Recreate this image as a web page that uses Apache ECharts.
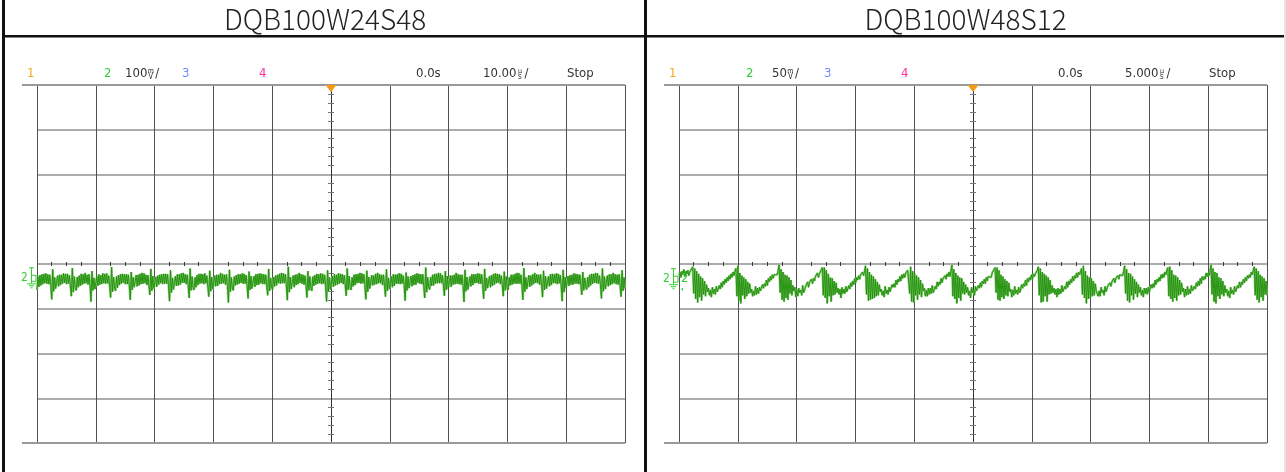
<!DOCTYPE html>
<html>
<head>
<meta charset="utf-8">
<script src="https://cdn.jsdelivr.net/npm/echarts@6/dist/echarts.min.js"></script>
<style>
  html, body { margin: 0; padding: 0; background: #fff; }
  #chart { width: 1286px; height: 472px; }
</style>
</head>
<body>
<div id="chart"></div>
<script>
// Panel titles
const titles = ['DQB100W24S48', 'DQB100W48S12'];
// Channel 2 vertical scale (mV/div) and its header text
const voltsPerDiv = [100, 50];
const voltLabels = ['100', '50'];
// Horizontal scale (µs/div) and its header text
const timePerDiv = [10, 5];
const timeLabels = ['10.00', '5.000'];
const delayLabel = '0.0s';
const runLabel = 'Stop';
// Channel 2 ground reference, in divisions from screen centre
const groundDiv = [-0.32, -0.34];
// Channel numbers shown in the header
const channelNames = ['1', '2', '3', '4'];

// Channel 2 ripple, mV relative to ground, evenly spaced over the 10-division record
const traceA = [
  -26, 4, -19, 7, -16, 9, -13, 10, -11, 11, -12, 9, -13, 8, -16, -47, 20, -29, 2, -23,
  -24, 6, -18, 8, -15, 8, -12, 11, -10, 10, -13, 10, -12, 7, -17, -40, 23, -31, 4, -21,
  -27, 3, -20, 6, -17, 10, -14, 9, -12, 12, -11, 8, -14, 9, -15, -52, 16, -27, 1, -24,
  -23, 5, -17, 9, -14, 7, -13, 11, -11, 10, -12, 11, -11, 6, -18, -43, 25, -30, 3, -22,
  -28, 4, -21, 7, -15, 9, -12, 10, -10, 9, -13, 9, -13, 8, -14, -48, 14, -26, 2, -20,
  -22, 7, -18, 8, -16, 10, -13, 12, -12, 11, -11, 8, -15, 7, -16, -37, 21, -28, 5, -23,
  -25, 3, -19, 6, -14, 8, -11, 9, -13, 10, -12, 10, -12, 9, -17, -51, 18, -32, 1, -25,
  -24, 5, -17, 9, -16, 9, -14, 11, -10, 12, -10, 9, -13, 8, -15, -44, 22, -27, 4, -21,
  -26, 2, -20, 7, -15, 10, -12, 10, -11, 9, -13, 11, -11, 6, -18, -41, 17, -29, 3, -24,
  -23, 6, -18, 8, -17, 8, -13, 12, -12, 10, -11, 8, -14, 9, -16, -54, 19, -30, 2, -22,
  -27, 4, -16, 7, -14, 9, -12, 9, -10, 11, -12, 10, -12, 7, -15, -45, 15, -26, 5, -23,
  -24, 5, -19, 9, -15, 10, -14, 11, -11, 10, -13, 9, -13, 8, -17, -38, 21, -28, 1, -20,
  -25, 3, -18, 6, -16, 8, -11, 10, -12, 12, -11, 11, -11, 9, -14, -49, 26, -31, 3, -24,
  -22, 6, -20, 8, -15, 9, -13, 12, -10, 9, -12, 8, -14, 6, -16, -43, 16, -27, 4, -22,
  -28, 4, -17, 7, -14, 10, -12, 9, -11, 11, -13, 10, -12, 8, -18, -52, 18, -29, 2, -25,
  -23, 5, -19, 9, -16, 8, -14, 11, -12, 10, -10, 9, -13, 7, -15, -39, 22, -26, 5, -21,
  -26, 2, -18, 8, -15, 9, -11, 10, -10, 12, -12, 11, -11, 9, -17, -47, 17, -30, 3, -23,
  -24, 7, -16, 6, -14, 10, -13, 12, -11, 9, -11, 8, -15, 8, -16, -41, 20, -28, 1, -24,
  -27, 4, -20, 9, -17, 8, -12, 9, -12, 11, -13, 10, -12, 6, -14, -50, 13, -27, 4, -22,
  -22, 5, -18, 7, -15, 9, -14, 11, -10, 10, -12, 9, -13, 9, -18, -44, 24, -31, 2, -20,
  -25, 3, -17, 8, -16, 10, -12, 10, -11, 12, -11, 11, -11, 7, -15, -39, 16, -26, 5, -23,
  -23, 6, -19, 6, -14, 8, -13, 12, -12, 9, -13, 8, -14, 8, -17, -53, 19, -29, 3, -25,
  -28, 4, -18, 9, -15, 9, -11, 9, -10, 11, -12, 10, -12, 9, -16, -46, 21, -28, 1, -22,
  -24, 5, -20, 7, -17, 10, -14, 11, -11, 10, -10, 9, -13, 6, -14, -40, 15, -27, 4, -21,
  -26, 2, -16, 8, -14, 8, -12, 10, -12, 12, -12, 11, -12, 8, -18, -48, 23, -30, 2, -24,
  -22, 7, -19, 6, -16, 9, -13, 12, -10, 9, -11, 8, -14, 9, -15, -42, 17, -26, 5, -23,
  -27, 4, -18, 9, -15, 10, -11, 9, -11, 11, -13, 10, -11, 7, -17, -51, 19, -31, 3, -22,
  -23, 5, -17, 7, -14, 8, -14, 11, -12, 10, -12, 9, -13, 8, -16, -37, 14, -27, 1, -20,
  -25, 3, -20, 8, -16, 10, -12, 10, -10, 12, -11, 11, -12, 6, -14, -45, 22, -29, 4, -24,
  -24, 6, -18, 9, -15, 9, -13, 12, -11, 9, -13, 8, -14, 9, -17, -41, 18, -28, 2, -23
];
const traceB = [
  4, 8, 2, 9, 5, 11, 3, 9, 6, 10, 4, 8, 7, 10,
  14, -16, 12, -22, 9, -26, 6, -20, 3, -24, 1, -17, -2, -19, -6, -14, -10, -18, -12, -20, -9, -16, -11, -17, -8, -14, -13, -7, -11, -4, -9, -2, -6, 0, -4, 2, -2, 4, 0, 6, 2, 8, 4, 9,
  12, -19, 15, -24, 7, -27, 4, -18, 2, -22, 0, -19, -3, -16, -5, -15, -11, -19, -13, -18, -8, -17, -10, -16, -9, -13, -12, -6, -10, -5, -8, -1, -7, 1, -3, 3, -1, 5, 1, 5, 3, 7, 5, 10,
  16, -15, 11, -23, 8, -25, 5, -21, 4, -23, 2, -16, -1, -18, -7, -13, -9, -20, -12, -19, -10, -15, -12, -18, -7, -15, -14, -8, -10, -3, -9, -3, -5, 0, -5, 1, -2, 3, 1, 7, 2, 6, 5, 8,
  13, -18, 13, -21, 10, -27, 6, -19, 2, -25, 1, -18, -2, -17, -4, -15, -10, -17, -11, -21, -9, -16, -11, -16, -8, -14, -12, -7, -11, -4, -8, -2, -6, 1, -4, 2, -1, 4, 0, 5, 3, 8, 4, 9,
  15, -17, 12, -24, 8, -23, 5, -22, 3, -21, 0, -19, -3, -18, -6, -14, -11, -18, -13, -20, -8, -16, -12, -17, -9, -14, -13, -6, -9, -5, -9, -1, -6, 0, -3, 3, -2, 5, 1, 6, 2, 7, 5, 10,
  11, -16, 14, -25, 9, -26, 7, -18, 4, -23, 2, -17, -1, -20, -5, -13, -10, -19, -12, -19, -10, -17, -10, -16, -7, -15, -12, -8, -11, -3, -8, -3, -6, 1, -4, 1, -1, 4, 0, 6, 3, 8, 3, 9,
  16, -19, 11, -22, 7, -27, 4, -21, 2, -24, 1, -16, -3, -17, -6, -15, -9, -18, -13, -21, -9, -15, -11, -18, -8, -13, -14, -7, -10, -4, -9, -2, -5, 0, -5, 2, -2, 3, 1, 5, 2, 7, 5, 9,
  13, -15, 13, -23, 10, -24, 5, -20, 3, -22, 0, -18, -2, -19, -4, -14, -11, -20, -12, -18, -8, -16, -12, -17, -9, -15, -12, -6, -10, -5, -8, -1, -7, 1, -3, 2, -1, 5, 0, 6, 3, 6, 4, 10,
  14, -18, 12, -26, 8, -25, 6, -19, 4, -25, 2, -17, -1, -16, -7, -15, -10, -17, -11, -20, -10, -17, -11, -16, -7, -14, -13, -8, -11, -3, -9, -2, -6, 0, -4, 3, -2, 4, 1, 7, 2, 8, 5, 8,
  12, -17, 15, -21, 9, -27, 4, -22, 2, -21, 1, -19, -2, -18, -5, -13, -11, -19, -13, -19, -9, -15, -12, -18, -8, -14, -12, -7, -9, -4, -8, -3, -5, 1, -4, 1, -1, 4, 0, 5, 3, 7, 4, 9,
  15, -16, 11, -24, 7, -26, 6, -18, 3, -23, 0, -16, -3, -20, -6, -15, -9, -18, -12, -20, -10, -16, -10, -17, -9, -15, -14, -6, -10, -5, -9, -1, -6, 0, -3, 2, -2, 5, 1, 6, 2, 8, 5, 10,
  13, -19, 14, -22, 10, -25, 5, -21, 4, -24, 2, -18, -1, -17, -4, -14, -10, -20, -11, -18, -8, -17, -11, -16, -7, -13, -13, -8, -11, -4, -8, -2, -7, 1, -5, 3, -1, 3, 0, 7, 3, 7, 4, 9,
  16, -17, 12, -25, 8, -27, 7, -19, 2, -22, 1, -17, -2, -19, -7, -15, -11, -19, -13, -21, -9, -16, -12, -17, -8, -14, -12, -7, -10, -3, -9, -3, -6, 0, -4, 2, -2, 4, 1, 5, 2, 8, 5, 10,
  14, -18, 12, -23, 9, -26, 5, -20, 3, -24, 1, -17, -2, -18
];
const traces = [traceA, traceB];

// ---- screen geometry ----
const SCREEN_LEFT = [37, 679];
const SCREEN_TOP = 85;
const SCREEN_W = 588;
const SCREEN_H = 358;
const CELL_X = [3, 645, 1284];

const COL = {
  ch: ['#f5a623', '#33cc33', '#6f8cff', '#ff2f92'],
  text: '#333333',
  vGrid: '#505050',
  hGrid: '#acacac',
  trace: '#1f8f0a',
  traceHalo: '#7fc96a',
  trig: '#f39a12'
};
const HEAD_FONT = "'Liberation Sans Narrow', 'DejaVu Sans Condensed', 'Arial Narrow', sans-serif";
const HEAD_SIZE = 13;

const measureCtx = document.createElement('canvas').getContext('2d');
function textWidth(s, font) { measureCtx.font = font; return measureCtx.measureText(s).width; }

const chart = echarts.init(document.getElementById('chart'), null, { renderer: 'canvas' });

const grids = [], xAxes = [], yAxes = [], series = [];

for (let p = 0; p < 2; p++) {
  grids.push({ left: SCREEN_LEFT[p], top: SCREEN_TOP, width: SCREEN_W, height: SCREEN_H, outerBoundsMode: 'none' });
  const t = timePerDiv[p];
  const xBase = { gridIndex: p, type: 'value', min: -5 * t, max: 5 * t, interval: t,
    axisLabel: { show: false }, splitLine: { show: false } };
  const yBase = { gridIndex: p, type: 'value', min: -4, max: 4, interval: 1,
    axisLabel: { show: false }, splitLine: { show: false } };
  // main graticule
  xAxes.push(Object.assign({}, xBase, {
    position: 'bottom', axisLine: { show: false, onZero: false }, axisTick: { show: false },
    splitLine: { show: true, lineStyle: { color: COL.vGrid, width: 1 } }
  }));
  yAxes.push(Object.assign({}, yBase, {
    position: 'left', axisLine: { show: false, onZero: false }, axisTick: { show: false },
    splitLine: { show: true, lineStyle: { color: COL.hGrid, width: 2 } }
  }));
  // centre cross with fine graduations (one axis per tick direction)
  ['top', 'bottom'].forEach(pos => {
    xAxes.push(Object.assign({}, xBase, {
      position: pos, offset: -SCREEN_H / 2,
      axisLine: { show: false, onZero: false }, axisTick: { show: false },
      minorTick: { show: true, splitNumber: 4, length: 2, lineStyle: { color: '#3a3a3a', width: 1 } }
    }));
  });
  ['left', 'right'].forEach(pos => {
    yAxes.push(Object.assign({}, yBase, {
      position: pos, offset: -SCREEN_W / 2,
      axisLine: { show: pos === 'left', onZero: false, lineStyle: { color: '#333', width: 1 } },
      axisTick: { show: false },
      minorTick: { show: true, splitNumber: 5, length: 3, lineStyle: { color: '#777', width: 1 } }
    }));
  });

  const tr = traces[p];
  const step = 10 * t / (tr.length - 1);
  const pts = tr.map((v, i) => [-5 * t + i * step, v / voltsPerDiv[p] + groundDiv[p]]);
  // soft phosphor halo under the trace
  series.push({
    type: 'line', xAxisIndex: p * 3, yAxisIndex: p * 3, data: pts,
    showSymbol: false, symbol: 'none', animation: false, clip: true, silent: true,
    lineStyle: { color: COL.traceHalo, width: 2.2, opacity: 0.9 }, z: 4
  });
  series.push({
    type: 'line', xAxisIndex: p * 3, yAxisIndex: p * 3, data: pts,
    showSymbol: false, symbol: 'none', animation: false, clip: true,
    lineStyle: { color: COL.trace, width: 0.9 }, z: 5
  });
}

chart.setOption({
  animation: false,
  backgroundColor: '#ffffff',
  grid: grids, xAxis: xAxes, yAxis: yAxes, series: series
});

// ---- frame, headers and markers ----
function buildGraphics() {
  const g = [];
  // table rules
  g.push({ type: 'rect', shape: { x: 2, y: 0, width: 3, height: 472 }, style: { fill: '#111' }, z: 10 });
  g.push({ type: 'rect', shape: { x: 644, y: 0, width: 3, height: 472 }, style: { fill: '#111' }, z: 10 });
  g.push({ type: 'rect', shape: { x: 2, y: 35, width: 1283, height: 2.5 }, style: { fill: '#111' }, z: 10 });
  g.push({ type: 'rect', shape: { x: 1284, y: 0, width: 2, height: 472 }, style: { fill: '#e4e4e4' }, z: 10 });

  const hFont = HEAD_SIZE + 'px ' + HEAD_FONT;
  for (let p = 0; p < 2; p++) {
    const L = SCREEN_LEFT[p];
    const R = L + SCREEN_W;
    const dx = L - SCREEN_LEFT[0];
    // title
    g.push({ type: 'text', x: (CELL_X[p] + CELL_X[p + 1]) / 2 + 1, y: 19,
      style: { text: titles[p], fill: '#222', font: "300 28px 'Noto Sans CJK SC', 'Noto Sans', sans-serif",
        align: 'center', verticalAlign: 'middle' }, z: 10 });
    // outer screen rules extending left
    [SCREEN_TOP, SCREEN_TOP + SCREEN_H].forEach(y => {
      g.push({ type: 'line', shape: { x1: L - 15, y1: y, x2: R, y2: y },
        style: { stroke: '#9a9a9a', lineWidth: 2 }, z: 3 });
    });
    // header line
    const hy = 74;
    const txt = (s, x, color) => g.push({ type: 'text', x: x, y: hy,
      style: { text: s, fill: color, font: hFont, align: 'left', verticalAlign: 'middle' }, z: 10 });
    const stacked = (x, top, bottom) => {
      g.push({ type: 'text', x: x, y: hy - 3, style: { text: top, fill: COL.text, font: '7px ' + HEAD_FONT, align: 'center', verticalAlign: 'middle' }, z: 10 });
      g.push({ type: 'text', x: x, y: hy + 3, style: { text: bottom, fill: COL.text, font: '8px ' + HEAD_FONT, align: 'center', verticalAlign: 'middle' }, z: 10 });
    };
    const chX = [27, 104, 182, 259];
    channelNames.forEach((c, i) => txt(c, chX[i] + dx, COL.ch[i]));
    // volts/div with stacked unit
    const vStart = (p === 0 ? 125 : 130) + dx;
    txt(voltLabels[p], vStart, COL.text);
    const vEnd = vStart + textWidth(voltLabels[p], hFont);
    stacked(vEnd + 3.5, 'm', 'V');
    txt('/', vEnd + 8, COL.text);
    // time base
    txt(delayLabel, 416 + dx, COL.text);
    const tStart = 483 + dx;
    txt(timeLabels[p], tStart, COL.text);
    const tEnd = tStart + textWidth(timeLabels[p], hFont);
    stacked(tEnd + 3.5, 'µ', 's');
    txt('/', tEnd + 8, COL.text);
    txt(runLabel, 567 + dx, COL.text);

    // trigger position marker
    const cx = chart.convertToPixel({ xAxisIndex: p * 3 }, 0);
    g.push({ type: 'polygon', shape: { points: [[cx - 5.5, SCREEN_TOP], [cx + 5.5, SCREEN_TOP], [cx, SCREEN_TOP + 7]] },
      style: { fill: COL.trig }, z: 12 });

    // channel 2 ground marker
    const gy = chart.convertToPixel({ yAxisIndex: p * 3 }, groundDiv[p]);
    const green = COL.ch[1];
    g.push({ type: 'text', x: L - 16, y: gy, style: { text: '2', fill: green, font: '12px ' + HEAD_FONT, align: 'left', verticalAlign: 'middle' }, z: 12 });
    const ln = (x1, y1, x2, y2) => g.push({ type: 'line', shape: { x1, y1, x2, y2 }, style: { stroke: green, lineWidth: 1 }, z: 12 });
    ln(L - 8, gy - 10.5, L - 3, gy - 10.5);
    ln(L - 5.5, gy - 10.5, L - 5.5, gy + 5);
    ln(L - 10, gy + 5.5, L - 1, gy + 5.5);
    ln(L - 8, gy + 7.5, L - 3, gy + 7.5);
    ln(L - 6.5, gy + 9.5, L - 4.5, gy + 9.5);
    g.push({ type: 'polyline', shape: { points: [[L - 5, gy - 3], [L - 1, gy - 3], [L - 1, gy + 3], [L - 5, gy + 3]] },
      style: { stroke: green, lineWidth: 1, fill: 'none' }, z: 12 });
    if (p === 1) {
      g.push({ type: 'text', x: L + 2, y: gy - 1, style: { text: '2', fill: green, font: '13px ' + HEAD_FONT, align: 'left', verticalAlign: 'middle' }, z: 12 });
      g.push({ type: 'rect', shape: { x: L + 2.5, y: gy + 9, width: 1.5, height: 2 }, style: { fill: green }, z: 12 });
    }
  }
  return g;
}

chart.setOption({ graphic: { elements: buildGraphics() } });
</script>
</body>
</html>
